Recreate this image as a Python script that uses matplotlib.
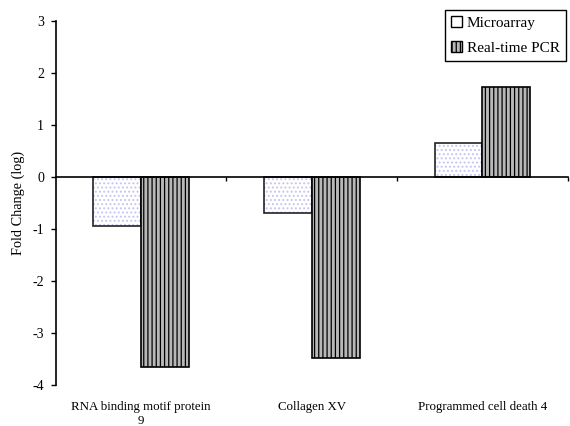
import matplotlib.pyplot as plt
import matplotlib.transforms as mtransforms
from matplotlib.patches import Patch
import numpy as np

plt.rcParams['font.family'] = ['Liberation Serif', 'DejaVu Serif']
plt.rcParams['axes.unicode_minus'] = False
plt.rcParams['hatch.linewidth'] = 0.9

# data
genes = ["RNA binding motif protein\n9", "Collagen XV", "Programmed cell death 4"]
microarray = [-0.94, -0.69, 0.65]
realtime_pcr = [-3.65, -3.48, 1.73]

x = np.arange(len(genes))
w = 0.28

fig = plt.figure(figsize=(5.7, 4.26), dpi=100)
ax = fig.add_axes([0.098, 0.096, 0.898, 0.855])

# microarray: pale dotted fill, then dark outline on top
ax.bar(x - w / 2, microarray, w, color='white', edgecolor='#c4c4f0', hatch='....', linewidth=0)
ax.bar(x - w / 2, microarray, w, fill=False, edgecolor='#222222', linewidth=1.2)
# real-time PCR: vertical stripes
ax.bar(x + w / 2, realtime_pcr, w, color='#b8b8b8', edgecolor='black', hatch='||||', linewidth=1.2)

ax.set_xlim(-0.5, 2.5)
ax.set_ylim(-4, 3)
ax.set_yticks(range(-4, 4))
ax.tick_params(axis='y', direction='out', length=3.5, labelsize=10, width=1, pad=5)

ax.spines['top'].set_visible(False)
ax.spines['right'].set_visible(False)
ax.spines['bottom'].set_position(('data', 0))
ax.spines['left'].set_linewidth(1.2)
ax.spines['bottom'].set_linewidth(1.2)
ax.set_xticks([0.5, 1.5, 2.5])
ax.set_xticklabels([])
ax.tick_params(axis='x', direction='out', length=3, width=1)

trans = mtransforms.blended_transform_factory(ax.transData, ax.transAxes)
for i, g in enumerate(genes):
    ax.text(i, -0.045, g, transform=trans, ha='center', va='top', fontsize=9.3, linespacing=1.2)

ax.set_ylabel("Fold Change (log)", fontsize=10.3, labelpad=5)

handles = [Patch(facecolor='white', edgecolor='black', label='Microarray'),
           Patch(facecolor='#b8b8b8', edgecolor='black', hatch='||||', label='Real-time PCR')]
leg = fig.legend(handles=handles, loc='upper right', bbox_to_anchor=(0.995, 0.98), fontsize=11,
                 fancybox=False, framealpha=1, edgecolor='black', handlelength=0.7, handleheight=0.7,
                 handletextpad=0.3, borderpad=0.4, labelspacing=0.75, borderaxespad=0.1)
leg.get_frame().set_linewidth(1.0)

fig.savefig('out.png', dpi=100)
